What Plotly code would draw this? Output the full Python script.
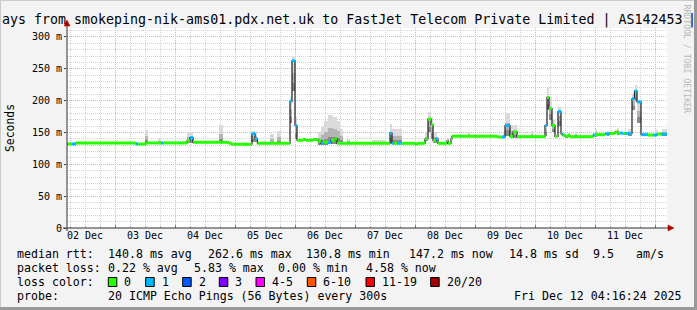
import plotly.graph_objects as go

# ---------------- data (time = hours since 02 Dec 00:00) ----------------
med_start_h = [4.8, 6.8, 8.4, 32.4, 33.2, 36.4, 42.4, 43.2, 52.8, 54.0,
               55.2, 66.4, 66.8, 69.2, 70.4, 78.8, 80.0, 81.0, 94.0, 94.8,
               96.0, 96.8, 99.2, 100.4, 103.2, 105.2, 106.4, 107.2, 109.2, 110.4,
               112.0, 112.8, 134.0, 134.8, 135.6, 136.8, 138.4, 144.0, 144.8, 148.0,
               149.2, 150.4, 151.2, 152.4, 153.2, 156.8, 157.2, 158.4, 158.8, 176.8,
               178.8, 180.0, 182.0, 183.2, 184.8, 196.0, 196.8, 197.6, 198.8, 200.0,
               201.2, 202.4, 203.0, 204.0, 205.2, 206.0, 215.2, 216.0, 220.0, 222.0,
               224.0, 225.2, 226.0, 227.2, 228.0, 230.8, 231.8, 232.8, 234.4, 237.2,
               239.2, 240.8, 242.4]
med_ms = [132, 132, 133.6, 132, 131.8, 133.6, 133.6, 133.6, 137, 142,
          134.6, 134.6, 134.6, 133.6, 131.5, 148, 140, 133, 199, 262.6,
          161, 137.8, 139, 137.8, 139, 136.5, 133, 135, 134, 138,
          140, 133, 149, 133, 133, 133, 133, 131.5, 133, 140,
          171, 162, 137, 140, 133, 137, 133, 140, 144, 143,
          143, 161, 144, 151, 143.5, 161, 205, 187.6, 161, 144,
          183, 148, 146, 143.5, 146, 143.5, 146, 146.6, 148, 148.5,
          151, 149, 149, 148.5, 148.5, 203, 215, 198, 146.7, 146,
          146, 147.6, 147.2]
med_loss = [0, 1, 0, 1, 0, 0, 1, 0, 0, 1,
            0, 1, 0, 0, 0, 1, 1, 0, 1, 1,
            1, 0, 0, 0, 0, 0, 1, 0, 1, 0,
            0, 0, 1, 1, 0, 1, 0, 0, 0, 0,
            0, 0, 0, 1, 0, 0, 0, 0, 0, 0,
            1, 1, 0, 0, 0, 1, 0, 0, 0, 0,
            1, 1, 0, 0, 0, 0, 1, 0, 1, 0,
            0, 0, 1, 0, 1, 1, 1, 1, 1, 0,
            1, 0, 1]
end_h = 244.8
start_h = 4.8
assert len(med_start_h) == len(med_ms) == len(med_loss)

smoke_start_h = [36.0, 41.2, 51.2, 52.8, 65.6, 78.4, 83.2, 86.0, 88.8, 94.0,
                 94.8, 96.0, 105.2, 106.4, 107.6, 109.2, 111.2, 112.8, 114.0, 116.8,
                 126.8, 134.0, 134.8, 148.0, 149.2, 150.4, 151.2, 156.8, 165.2, 179.2,
                 180.0, 182.0, 190.4, 196.4, 196.8, 197.6, 198.8, 201.2, 208.0, 216.0,
                 220.8, 224.8, 229.2, 230.8, 232.0, 232.8, 240.0, 242.8]
smoke_end_h = [37.2, 42.4, 52.8, 55.2, 67.2, 80.8, 84.4, 87.6, 90.4, 94.8,
               96.0, 96.8, 106.4, 107.6, 109.2, 111.2, 112.8, 114.0, 115.2, 118.0,
               132.4, 134.8, 138.8, 149.2, 150.4, 151.2, 152.8, 157.6, 166.0, 180.0,
               182.0, 184.8, 191.2, 196.8, 197.6, 198.8, 200.0, 202.4, 208.8, 216.8,
               221.6, 225.6, 230.8, 232.0, 232.8, 234.4, 241.2, 244.8]
smoke_lo = [132, 132, 132, 134, 133, 135, 132, 132, 132, 165,
            215, 140, 131, 131, 131, 132, 132, 132, 132, 132,
            132, 134, 132, 136, 150, 140, 134, 133, 143, 142,
            145, 141, 142, 145, 185, 170, 150, 160, 143, 144,
            146, 147, 146, 185, 200, 165, 145, 145]
smoke_hi = [154, 140, 137, 150, 161, 152, 137, 147, 153, 205,
            268, 175, 151, 158, 168, 177, 175, 168, 155, 140,
            138, 164, 155, 150, 182, 175, 150, 142, 151, 150,
            181, 162, 153, 165, 222, 205, 170, 190, 150, 156,
            153, 157, 155, 210, 225, 200, 154, 156]
assert len(smoke_start_h) == len(smoke_end_h) == len(smoke_lo) == len(smoke_hi)

loss_labels = ["0", "1", "2", "3", "4-5", "6-10", "11-19", "20/20"]
loss_colors = ["#26ff00", "#00b8ff", "#0059ff", "#7e00ff",
               "#ff00ff", "#ff5500", "#ff0000", "#a10000"]

day_tick_h = [12, 36, 60, 84, 108, 132, 156, 180, 204, 228]
day_labels = ["02 Dec", "03 Dec", "04 Dec", "05 Dec", "06 Dec",
              "07 Dec", "08 Dec", "09 Dec", "10 Dec", "11 Dec"]
y_tick_ms = [0, 50, 100, 150, 200, 250, 300]
y_tick_labels = ["0", "50 m", "100 m", "150 m", "200 m", "250 m", "300 m"]

rtt_stats = {"avg": 140.8, "max": 262.6, "min": 130.8, "now": 147.2}
rtt_sd = 14.8
rtt_ams = 9.5
loss_stats = {"avg": 0.22, "max": 5.83, "min": 0.00, "now": 4.58}

title_text = "ays from smokeping-nik-ams01.pdx.net.uk to FastJet Telecom Private Limited | AS142453"
title_tail = "|"
probe_text = "20 ICMP Echo Pings (56 Bytes) every 300s"
stamp_text = "Fri Dec 12 04:16:24 2025"

# ---------------- layout helpers ----------------
L, T, W, H = 67, 28, 600, 200
MONO = "DejaVu Sans Mono"


def px_x(x):
    return (x - L) / W


def px_y(y):
    return (T + H - y) / H


fig = go.Figure()

# smoke: three shades
shades = [("#dadada", 1.0), ("#b4b4b4", 0.55), ("#8a8a8a", 0.25)]
for col, frac in shades:
    xs = [(a + b) / 2 for a, b in zip(smoke_start_h, smoke_end_h)]
    ws = [(b - a) for a, b in zip(smoke_start_h, smoke_end_h)]
    ys = [(hi - lo) * frac for lo, hi in zip(smoke_lo, smoke_hi)]
    fig.add_trace(go.Bar(x=xs, y=ys, base=smoke_lo, width=ws,
                         marker=dict(color=col, line=dict(width=0)),
                         showlegend=False, hoverinfo="skip"))

# dark median step line
fig.add_trace(go.Scatter(x=med_start_h + [end_h], y=med_ms + [med_ms[-1]],
                         mode="lines", line=dict(color="#202020", width=1.2, shape="hv"),
                         showlegend=False, hoverinfo="skip"))

# loss-coloured median bands
ends = med_start_h[1:] + [end_h]
for k, col in enumerate(loss_colors):
    xs, ys = [], []
    for s, e, v, l in zip(med_start_h, ends, med_ms, med_loss):
        if l == k:
            xs += [s, e, None]
            ys += [v, v, None]
    if xs:
        fig.add_trace(go.Scatter(x=xs, y=ys, mode="lines",
                                 line=dict(color=col, width=3),
                                 showlegend=False, hoverinfo="skip"))

GRID = "#d2d2d2"
MGRID = "#eeaaaa"
DASH = "1px,1px"

fig.update_layout(
    width=697, height=310,
    margin=dict(l=L, r=697 - L - W, t=T, b=310 - T - H, pad=0),
    paper_bgcolor="#f3f3f3", plot_bgcolor="#ffffff",
    barmode="overlay", bargap=0,
    font=dict(family=MONO, size=10, color="#000000"),
    xaxis=dict(range=[start_h, end_h], tick0=0, dtick=24, showticklabels=False,
               showgrid=True, gridcolor=MGRID, griddash=DASH, gridwidth=1,
               ticks="inside", ticklen=3, tickcolor="#d06060", zeroline=False,
               showline=False,
               minor=dict(tick0=0, dtick=6, showgrid=True, gridcolor=GRID,
                          griddash=DASH, ticks="inside", ticklen=2, tickcolor="#b0b0b0")),
    xaxis2=dict(range=[start_h, end_h], overlaying="x", anchor="y", side="bottom",
                tickmode="array", tickvals=day_tick_h, ticktext=day_labels,
                showgrid=False, zeroline=False, ticks="", showline=False,
                tickfont=dict(family=MONO, size=10, color="#000000")),
    yaxis=dict(range=[0, 314.1], tickmode="array", tickvals=y_tick_ms,
               ticktext=y_tick_labels, showgrid=True, gridcolor=MGRID,
               griddash=DASH, zeroline=False, showline=False,
               ticks="outside", ticklen=2, tickcolor="#404040",
               tickfont=dict(family=MONO, size=10, color="#000000"),
               minor=dict(tick0=0, dtick=10, showgrid=True, gridcolor=GRID,
                          griddash=DASH)),
)

# dummy trace on xaxis2 so it renders
fig.add_trace(go.Scatter(x=[start_h], y=[None], xaxis="x2", showlegend=False,
                         hoverinfo="skip", mode="markers"))

shapes = []
# frame (3D border)
shapes.append(dict(type="line", xref="paper", yref="paper", x0=px_x(0), x1=px_x(697),
                   y0=px_y(0.5), y1=px_y(0.5), line=dict(color="#cbcbcb", width=1)))
shapes.append(dict(type="line", xref="paper", yref="paper", x0=px_x(0.5), x1=px_x(0.5),
                   y0=px_y(0), y1=px_y(310), line=dict(color="#cbcbcb", width=1)))
shapes.append(dict(type="line", xref="paper", yref="paper", x0=px_x(0), x1=px_x(697),
                   y0=px_y(308.5), y1=px_y(308.5), line=dict(color="#999999", width=3)))
shapes.append(dict(type="line", xref="paper", yref="paper", x0=px_x(695.5), x1=px_x(695.5),
                   y0=px_y(0), y1=px_y(310), line=dict(color="#999999", width=3)))
# axes
AX = "#303030"
AR = "#b00000"
shapes.append(dict(type="line", xref="paper", yref="paper", x0=px_x(63), x1=px_x(669),
                   y0=px_y(228), y1=px_y(228), line=dict(color=AX, width=1)))
shapes.append(dict(type="line", xref="paper", yref="paper", x0=px_x(67), x1=px_x(67),
                   y0=px_y(231), y1=px_y(25), line=dict(color=AX, width=1)))
shapes.append(dict(type="path", xref="paper", yref="paper",
                   path=f"M {px_x(668)} {px_y(225)} L {px_x(674)} {px_y(228)} L {px_x(668)} {px_y(231)} Z",
                   fillcolor=AR, line=dict(color=AR, width=0.5)))
shapes.append(dict(type="path", xref="paper", yref="paper",
                   path=f"M {px_x(64)} {px_y(26)} L {px_x(67)} {px_y(20)} L {px_x(70)} {px_y(26)} Z",
                   fillcolor=AR, line=dict(color=AR, width=0.5)))

# loss colour boxes
box_x = [108.3, 145.7, 182.7, 219.3, 256, 307.3, 366, 430.7]
for bx, col in zip(box_x, loss_colors):
    shapes.append(dict(type="rect", xref="paper", yref="paper",
                       x0=px_x(bx), x1=px_x(bx + 8.5), y0=px_y(277.5), y1=px_y(286.5),
                       fillcolor=col, line=dict(color="#000000", width=1)))
fig.update_layout(shapes=shapes)

ann = []


def text(x, y, s, size=11.6, anchor="left", color="#000000", angle=0, yanchor="middle"):
    ann.append(dict(x=px_x(x), y=px_y(y), xref="paper", yref="paper", text=s,
                    showarrow=False, xanchor=anchor, yanchor=yanchor, textangle=angle,
                    font=dict(family=MONO, size=size, color=color), borderpad=0))


text(0.5, 19.5, title_text, size=13.3)
text(691.5, 19.5, title_tail, size=13.3, anchor="center")
text(10, 128, "Seconds", size=11.4, anchor="center", angle=-90)
text(686.5, 59, "RRDTOOL / TOBI OETIKER", size=8.2, anchor="center", angle=90, color="#b8b8b8")

r1, r2, r3, r4 = 254.3, 268.3, 282.3, 296.3
text(16, r1, "median rtt:")
text(107, r1, f"{rtt_stats['avg']:.1f} ms avg")
text(207, r1, f"{rtt_stats['max']:.1f} ms max")
text(305, r1, f"{rtt_stats['min']:.1f} ms min")
text(408, r1, f"{rtt_stats['now']:.1f} ms now")
text(508, r1, f"{rtt_sd:.1f} ms sd")
text(592, r1, f"{rtt_ams:.1f}")
text(635, r1, "am/s")

text(16, r2, "packet loss:")
text(107, r2, f"{loss_stats['avg']:.2f} % avg")
text(193, r2, f"{loss_stats['max']:.2f} % max")
text(276.5, r2, f"{loss_stats['min']:.2f} % min")
text(365, r2, f"{loss_stats['now']:.2f} % now")

text(16, r3, "loss color:")
for bx, lab in zip(box_x, loss_labels):
    text(bx + 15, r3, lab)

text(16, r4, "probe:")
text(107, r4, probe_text)
text(513, r4, stamp_text)

fig.update_layout(annotations=ann)

fig.write_html("out.html")
